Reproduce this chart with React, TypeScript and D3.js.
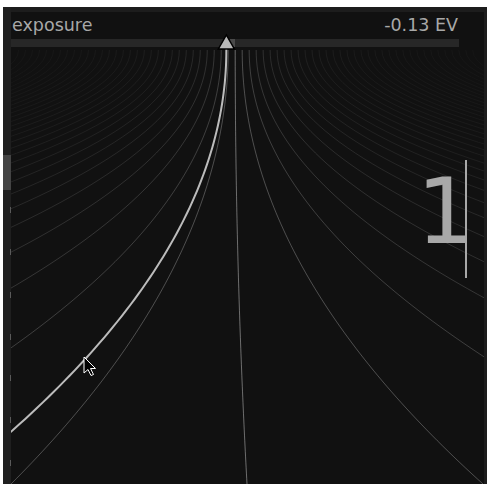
import * as d3 from 'd3';

// slider popup state
const sliderLabel = 'exposure';
const sliderValueText = '-0.13 EV';
const typedText = '1';
const basePos = 0.475; // normalized position of the unmodified value
const fineScale = 0.0148; // spacing of the fine-tuning stops at the top
const mouseOffset = -1.267; // offset (in stops) of the line under the mouse

// fine-tuning stops drawn as fan lines
const stops = [
  -31, -30, -29, -28, -27, -26, -25, -24, -23, -22, -21, -20, -19, -18, -17, -16,
  -15, -14, -13, -12, -11, -10, -9, -8, -7, -6, -5, -4, -3, -2, -1, 0,
  1, 2, 3, 4, 5, 6, 7, 8, 9, 10, 11, 12, 13, 14, 15, 16,
  17, 18, 19, 20, 21, 22, 23, 24, 25, 26, 27, 28, 29, 30, 31, 32, 33, 34,
];

// small notches on the left gutter (y positions in px)
const gutterMarks = [210, 252, 295, 337, 378, 420, 463];

const W = 487;
const H = 484;
const panel = { left: 11, top: 12, right: 484, bottom: 484 };
const lineTop = 50;

const x = d3.scaleLinear().domain([0, 1]).range([panel.left, 483]);
const y = d3.scaleLinear().domain([0, 1]).range([lineTop, H]);

const samples = d3.range(0, 1.0001, 1 / 80);

function stopPath(a: number) {
  const top = basePos + a * fineScale;
  const bottom = 0.5 * (1 + a);
  const pts: [number, number][] = samples.map((t) => {
    const t2 = t * t;
    return [x(t2 * bottom + (1 - t2) * top), y(t)];
  });
  return d3.line()(pts) || '';
}

function stopOpacity(a: number) {
  const g = 17 + 92 / (1 + 0.5 * Math.abs(a));
  return (g - 17) / (255 - 17);
}

export default function App() {
  const markX = x(basePos + mouseOffset * fineScale);
  const cursor = { x: 84, y: 357 };
  const arrow = [
    [0, 0], [0, 16], [4, 12.5], [7, 18.5], [9.5, 17.5], [6.5, 11.5], [11.5, 11.5],
  ].map(([dx, dy]) => `${cursor.x + dx},${cursor.y + dy}`).join(' ');

  return (
    <svg
      width={W}
      height={H}
      style={{ position: 'absolute', left: 0, top: 0, background: '#ffffff' }}
      fontFamily="'DejaVu Sans', sans-serif"
    >
      <defs>
        <clipPath id="panelClip">
          <rect x={panel.left} y={panel.top} width={panel.right - panel.left} height={panel.bottom - panel.top} />
        </clipPath>
      </defs>

      {/* frame */}
      <rect x={3} y={7} width={W - 3} height={H - 7} fill="#1d1d1d" />
      <rect x={3} y={7} width={8} height={H - 7} fill="#1f1f1f" />
      <rect x={3} y={155} width={8} height={35} fill="#444444" />
      <rect x={panel.left} y={panel.top} width={panel.right - panel.left} height={panel.bottom - panel.top} fill="#111111" />
      {gutterMarks.map((m) => (
        <line key={m} x1={10.5} x2={10.5} y1={m - 3} y2={m + 3} stroke="#5a5a5a" strokeWidth={1} />
      ))}

      {/* header */}
      <text x={12} y={31} fontSize={17.5} fill="#a8a8a8">{sliderLabel}</text>
      <text x={458} y={31} fontSize={17.5} fill="#a8a8a8" textAnchor="end">{sliderValueText}</text>
      <rect x={panel.left} y={39} width={459 - panel.left} height={8} fill="#272727" />
      <rect x={230} y={39} width={5} height={8} fill="#4a4a4a" />

      {/* fan lines */}
      <g clipPath="url(#panelClip)" fill="none">
        {stops.map((a) => (
          <path key={a} d={stopPath(a)} stroke="#ffffff" strokeOpacity={stopOpacity(a)} strokeWidth={1} />
        ))}
        <path d={stopPath(mouseOffset)} stroke="#bcbcbc" strokeWidth={2} />
        <line x1={markX} x2={markX} y1={44} y2={lineTop} stroke="#bcbcbc" strokeWidth={2} />
      </g>

      {/* value marker */}
      <polygon
        points={`${markX},35 ${markX - 8},49 ${markX + 8},49`}
        fill="#b8b8b8"
        stroke="#000000"
        strokeWidth={1.5}
        strokeLinejoin="miter"
      />

      {/* typed input */}
      <text x={474} y={243} fontSize={90} fill="#a8a8a8" textAnchor="end" fontWeight={500}>{typedText}</text>
      <line x1={466} x2={466} y1={160} y2={278} stroke="#a8a8a8" strokeWidth={2} />

      {/* mouse pointer */}
      <polygon points={arrow} fill="#000000" stroke="#ffffff" strokeWidth={1} strokeLinejoin="round" />
    </svg>
  );
}
